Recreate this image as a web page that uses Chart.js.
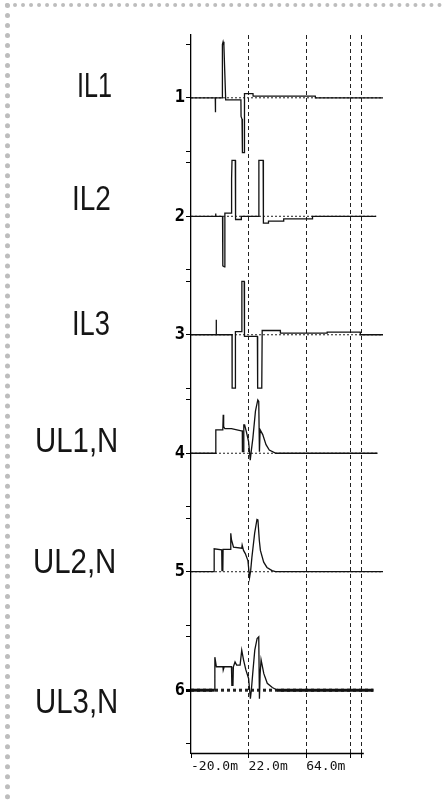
<!DOCTYPE html>
<html><head><meta charset="utf-8">
<script src="https://cdn.jsdelivr.net/npm/chart.js@4"></script>
<style>
html,body{margin:0;padding:0;background:#fff;}
#wrap{position:relative;width:442px;height:800px;overflow:hidden;background:#fff;}
#frame{position:absolute;left:5px;top:3px;width:437px;height:797px;border-left:5px dotted #bdbdbd;border-top:4px dotted #bdbdbd;box-sizing:border-box;}
.lbl{position:absolute;font-family:"Liberation Sans",Arial,sans-serif;font-size:35px;line-height:35px;color:#151515;transform-origin:0 0;white-space:nowrap;}
canvas{position:absolute;left:0;top:0;}
</style></head>
<body><div id="wrap"><div id="frame"></div>
<canvas id="c" width="442" height="800"></canvas>
<div class="lbl" style="left:77px;top:67px;transform:scaleX(0.72)">IL1</div>
<div class="lbl" style="left:72px;top:180px;transform:scaleX(0.8)">IL2</div>
<div class="lbl" style="left:72px;top:305px;transform:scaleX(0.78)">IL3</div>
<div class="lbl" style="left:35px;top:422px;transform:scaleX(0.84)">UL1,N</div>
<div class="lbl" style="left:33px;top:543px;transform:scaleX(0.84)">UL2,N</div>
<div class="lbl" style="left:35px;top:683px;transform:scaleX(0.84)">UL3,N</div>
</div>
<script>
// ---- data (time in ms, value in units of trace full scale; +1 = upper minor tick) ----
const TRACE_LABELS = ['IL1','IL2','IL3','UL1,N','UL2,N','UL3,N'];
const Y_TICKS = [1,2,3,4,5,6];
const X_TICKS = [-20, 22, 64, 96, 104];
const X_TICK_LABELS = ['-20.0m','22.0m','64.0m','',''];
const X_MIN = -20, X_MAX = 120, AXIS_END = 106;
const TICK_OFFSET = 0.45;

const IL1_t = [-20,-2.3,-2.2,-2.1,2.7,2.9,3.4,4.0,4.6,5.3,16.4,16.5,17.2,17.5,18.7,19.0,25.2,25.3,70.6,70.7,120];
const IL1_v = [0,0,-0.27,0,0,1.0,1.05,0.98,0.5,-0.04,-0.04,-0.35,-0.4,-1.03,-1.03,0.08,0.08,0.03,0.03,0,0];

const IL2_t = [-20,-2.1,-2.0,-1.9,3.0,3.2,4.4,4.7,9.2,9.6,9.9,12.3,12.5,16.6,16.7,29.3,29.5,32.6,32.8,36.4,36.5,47.5,47.6,68.5,68.6,115];
const IL2_v = [0,0,0.05,0,0,-0.93,-0.95,0.06,0.06,0.7,1.05,1.05,-0.06,-0.06,0,0,1.05,1.05,-0.13,-0.13,-0.09,-0.09,-0.05,-0.05,0,0];

const IL3_t = [-20,-1.7,-1.6,-1.5,9.9,10.0,12.2,12.4,14.7,16.9,17.1,18.8,19.0,28.4,28.6,31.6,31.9,45.1,45.2,79.2,79.3,103.4,103.5,120];
const IL3_v = [0,0,0.28,0,0,-1.0,-1.0,0.06,0.06,0.06,1.0,1.0,-0.03,-0.03,-1.0,-1.0,0.08,0.08,0.03,0.03,0.05,0.05,0,0];

const UL1_t = [-20,-2.0,-1.9,3.2,3.5,3.8,4.7,9.5,16.7,17.4,17.5,18.3,18.5,19.1,20.3,22.0,23.2,23.9,25.1,27.0,28.7,29.4,29.9,30.4,32.3,34.7,37.1,41.9,116];
const UL1_v = [0,0,0.44,0.44,0.72,0.5,0.46,0.46,0.42,0.42,0.03,0.03,0.53,0.53,0.41,0.22,-0.13,0.03,0.28,0.79,1.0,0.97,0.03,0.44,0.35,0.16,0.06,0,0];

const UL2_t = [-20,-3.2,-3.1,2.4,2.6,3.2,3.4,8.6,9.0,9.5,11.0,17.0,17.3,18.3,19.6,21.5,22.7,23.5,24.4,26.4,28.1,28.8,29.8,30.6,33.0,35.4,39.1,41.6,120];
const UL2_v = [0,0,0.43,0.41,0.02,0.02,0.42,0.42,0.72,0.6,0.46,0.44,0.5,0.4,0.34,0.21,-0.11,0.02,0.27,0.72,0.98,0.97,0.59,0.4,0.18,0.08,0.02,0,0];

const UL3_t = [-20,-2.7,-2.6,-1.5,3.3,3.5,4.2,9.5,9.8,10.6,10.9,12.1,13.3,15.8,17.0,18.3,20.0,22.0,23.3,24.0,25.0,26.5,28.2,29.4,29.9,30.4,31.1,33.1,35.6,39.3,43.0,113];
const UL3_v = [0,0,0.62,0.44,0.44,0.38,0.44,0.44,0.09,0.09,0.44,0.53,0.47,0.47,0.75,0.57,0.38,0.22,-0.16,0,0.31,0.75,0.97,1.0,-0.16,0.3,0.57,0.31,0.13,0.05,0,0];

const TRACES = [[IL1_t,IL1_v],[IL2_t,IL2_v],[IL3_t,IL3_v],[UL1_t,UL1_v],[UL2_t,UL2_v],[UL3_t,UL3_v]];

const datasets = [];
TRACES.forEach(([ts, vs], i) => {
  const k = Y_TICKS[i];
  const bold = (i === 5);
  const ds = {
    label: TRACE_LABELS[i],
    data: ts.map((t, j) => ({x: t, y: k - TICK_OFFSET * vs[j]})),
    borderColor: '#111', borderWidth: 1.3, pointRadius: 0, tension: 0, order: 1, fill: false
  };
  if (bold) ds.segment = {borderWidth: c => (c.p0.parsed.y === k && c.p1.parsed.y === k) ? 3 : 1.3};
  datasets.push(ds);
  datasets.push({
    label: TRACE_LABELS[i] + ' zero',
    data: [{x: ts[0], y: k}, {x: ts[ts.length - 1], y: k}],
    borderColor: '#222', borderWidth: bold ? 3 : 1, borderDash: bold ? [3,3] : [2,2],
    pointRadius: 0, order: 2, fill: false
  });
});

const axisLine = {
  id: 'axisLine',
  afterDraw(chart) {
    const xs = chart.scales.x, ys = chart.scales.y, ctx = chart.ctx;
    const y = Math.round(ys.bottom) + 0.5;
    ctx.save();
    ctx.strokeStyle = '#000'; ctx.lineWidth = 1.6;
    ctx.beginPath();
    ctx.moveTo(xs.getPixelForValue(X_MIN), y);
    ctx.lineTo(xs.getPixelForValue(AXIS_END), y);
    ctx.stroke();
    ctx.restore();
  }
};

new Chart(document.getElementById('c'), {
  type: 'line',
  data: {datasets},
  plugins: [axisLine],
  options: {
    responsive: false, animation: false, devicePixelRatio: 1,
    layout: {padding: {top: 35, right: 59, left: 0, bottom: 0}},
    plugins: {legend: {display: false}, tooltip: {enabled: false}},
    scales: {
      x: {
        type: 'linear', min: X_MIN, max: X_MAX,
        afterBuildTicks: s => { s.ticks = X_TICKS.map(v => ({value: v})); },
        afterFit: s => { s.height = 47; },
        ticks: {autoSkip: false, maxRotation: 0, minRotation: 0, align: 'start', padding: 1, color: '#111',
          font: {family: '"DejaVu Sans Mono", monospace', size: 13},
          callback: (v, i) => X_TICK_LABELS[i]},
        grid: {drawOnChartArea: true, lineWidth: 1, tickColor: '#000', tickLength: 5,
          color: c => (c.tick && c.tick.value === X_MIN) ? 'rgba(0,0,0,0)' : '#222'},
        border: {display: false, dash: [4,3]}
      },
      y: {
        type: 'linear', reverse: true, min: 0.47, max: 6.53,
        afterBuildTicks: s => {
          const t = [];
          Y_TICKS.forEach(k => { t.push({value: k - TICK_OFFSET}, {value: k}, {value: k + TICK_OFFSET}); });
          s.ticks = t.filter(o => o.value >= 0.47 && o.value <= 6.53);
        },
        afterFit: s => { s.width = 191; },
        ticks: {autoSkip: false, padding: 1, color: '#000',
          font: {family: '"DejaVu Sans Mono", monospace', size: 17, weight: 'bold'},
          callback: v => Number.isInteger(v) ? String(v) : ''},
        grid: {drawOnChartArea: false, tickLength: 5, tickColor: '#000',
          lineWidth: c => (c.tick && c.tick.value === 6) ? 3 : 1},
        border: {display: true, color: '#000', width: 1.3}
      }
    }
  }
});
</script>
</body></html>
